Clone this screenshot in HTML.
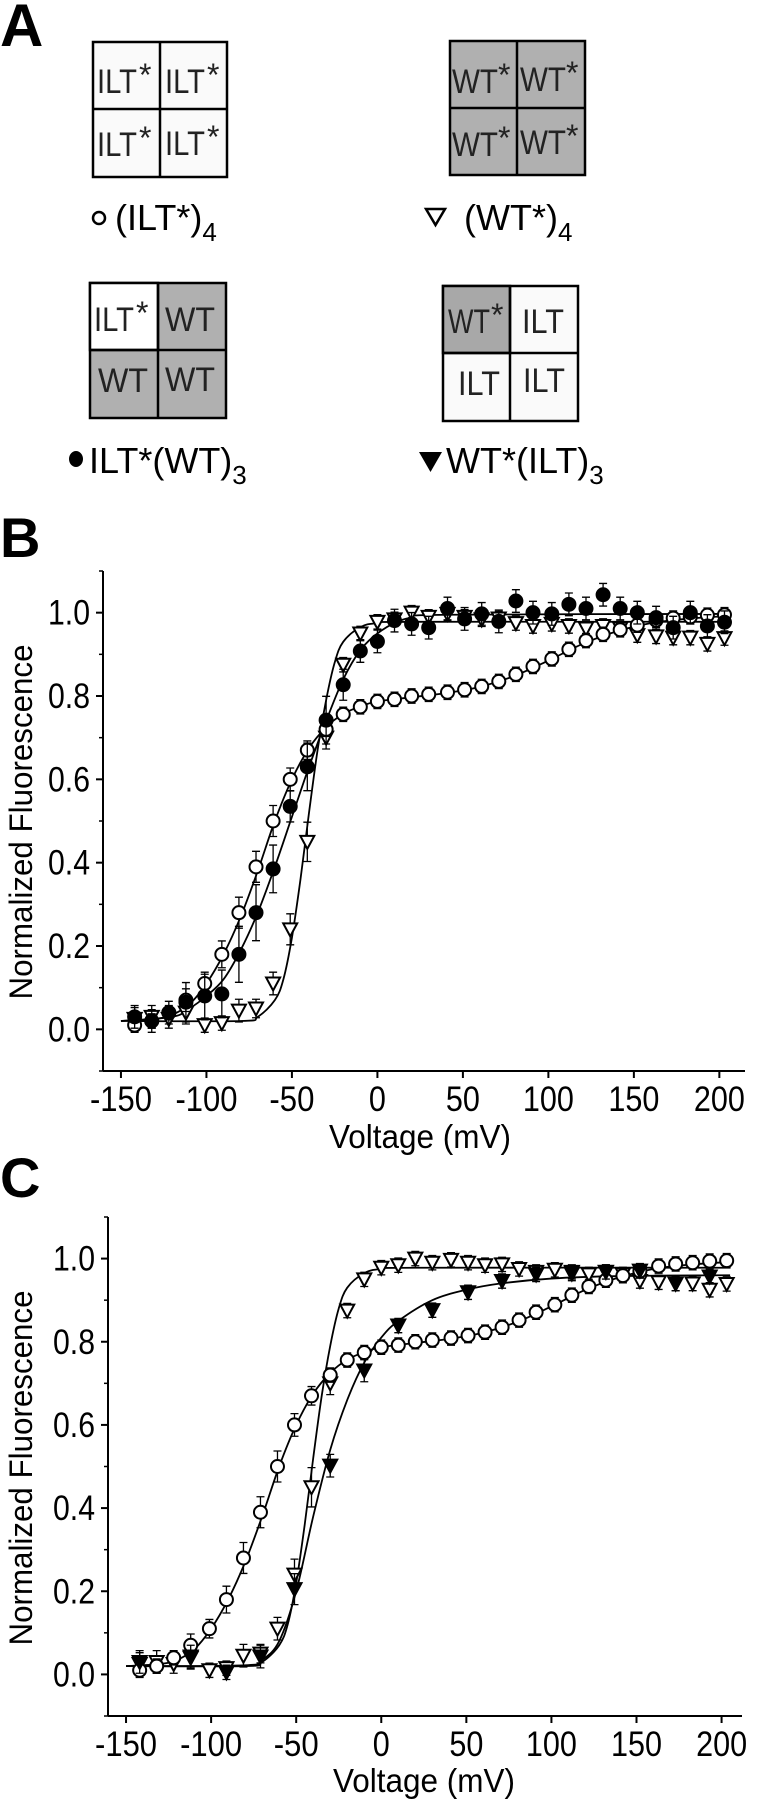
<!DOCTYPE html>
<html><head><meta charset="utf-8"><style>
html,body{margin:0;padding:0;background:#fff;}
svg{display:block;font-family:"Liberation Sans",Arial,sans-serif;}
</style></head><body>
<svg id="fig" width="759" height="1800" viewBox="0 0 759 1800" xmlns="http://www.w3.org/2000/svg">
<g>
<text x="0" y="46" font-size="60" font-weight="bold">A</text>
<g stroke="#000" stroke-width="2.5">
<rect x="93" y="42" width="134" height="135" fill="#fafafa"/>
<line x1="160" y1="42" x2="160" y2="177"/><line x1="93" y1="109" x2="227" y2="109"/>
</g>
<g font-size="34" fill="#222" lengthAdjust="spacingAndGlyphs">
<text x="97" y="93" textLength="40" lengthAdjust="spacingAndGlyphs">ILT</text><text x="139" y="86" font-size="32">*</text>
<text x="165" y="93" textLength="40" lengthAdjust="spacingAndGlyphs">ILT</text><text x="207" y="86" font-size="32">*</text>
<text x="97" y="156" textLength="40" lengthAdjust="spacingAndGlyphs">ILT</text><text x="139" y="149" font-size="32">*</text>
<text x="165" y="155" textLength="40" lengthAdjust="spacingAndGlyphs">ILT</text><text x="207" y="148" font-size="32">*</text>
</g>
<g stroke="#000" stroke-width="2.5">
<rect x="450" y="41" width="135" height="134" fill="#b0b0b0"/>
<line x1="517" y1="41" x2="517" y2="175"/><line x1="450" y1="108" x2="585" y2="108"/>
</g>
<g font-size="34" fill="#222">
<text x="452" y="93" textLength="46" lengthAdjust="spacingAndGlyphs">WT</text><text x="498" y="86" font-size="32">*</text>
<text x="520" y="91" textLength="46" lengthAdjust="spacingAndGlyphs">WT</text><text x="566" y="84" font-size="32">*</text>
<text x="452" y="156" textLength="46" lengthAdjust="spacingAndGlyphs">WT</text><text x="498" y="149" font-size="32">*</text>
<text x="520" y="154" textLength="46" lengthAdjust="spacingAndGlyphs">WT</text><text x="566" y="147" font-size="32">*</text>
</g>
<g stroke="#000" stroke-width="2.5">
<rect x="90" y="283" width="136" height="135" fill="#b0b0b0"/>
<rect x="90" y="283" width="68" height="67" fill="#fff"/>
<line x1="158" y1="283" x2="158" y2="418"/><line x1="90" y1="350" x2="226" y2="350"/>
</g>
<g font-size="34" fill="#222">
<text x="94" y="331" textLength="40" lengthAdjust="spacingAndGlyphs">ILT</text><text x="136" y="324" font-size="32">*</text>
<text x="165" y="331" textLength="50" lengthAdjust="spacingAndGlyphs">WT</text>
<text x="98" y="392" textLength="50" lengthAdjust="spacingAndGlyphs">WT</text>
<text x="165" y="391" textLength="50" lengthAdjust="spacingAndGlyphs">WT</text>
</g>
<g stroke="#000" stroke-width="2.5">
<rect x="443" y="286" width="135" height="135" fill="#fafafa"/>
<rect x="443" y="286" width="67" height="67" fill="#a8a8a8"/>
<line x1="510" y1="286" x2="510" y2="421"/><line x1="443" y1="353" x2="578" y2="353"/>
</g>
<g font-size="34" fill="#222">
<text x="448" y="333" textLength="42" lengthAdjust="spacingAndGlyphs">WT</text><text x="491" y="326" font-size="32">*</text>
<text x="522" y="333" textLength="42" lengthAdjust="spacingAndGlyphs">ILT</text>
<text x="458" y="395" textLength="42" lengthAdjust="spacingAndGlyphs">ILT</text>
<text x="523" y="392" textLength="42" lengthAdjust="spacingAndGlyphs">ILT</text>
</g>
<g>
<circle cx="99" cy="218" r="6" fill="none" stroke="#000" stroke-width="2.5"/>
<text x="115" y="230" font-size="36">(ILT*)<tspan font-size="26" dy="11">4</tspan></text>
</g>
<g>
<polygon points="426,209 445,209 435.5,225" fill="none" stroke="#000" stroke-width="2.5"/>
<text x="464" y="230" font-size="36">(WT*)<tspan font-size="26" dy="11">4</tspan></text>
</g>
<g>
<ellipse cx="76" cy="459" rx="7" ry="8" fill="#000"/>
<text x="89" y="473" font-size="36">ILT*(WT)<tspan font-size="26" dy="11">3</tspan></text>
</g>
<g>
<polygon points="419,452 442,452 430.5,472" fill="#000"/>
<text x="446" y="473" font-size="36">WT*(ILT)<tspan font-size="26" dy="11">3</tspan></text>
</g>
</g>
<text x="0" y="557" font-size="56" font-weight="bold">B</text>
<text x="0" y="1197" font-size="56" font-weight="bold">C</text>
<g id="chartB"></g>
<g id="chartC"></g>
</svg>
<script>
// ---- data ----
const voltages = [-142,-132,-122,-112,-101,-91,-81,-71,-61,-51,-41,-30,-20,-10,0,10,20,30,41,51,61,71,81,91,102,112,122,132,142,152,163,173,183,193,203];
const iltStar4 = [0.01,0.02,0.04,0.07,0.11,0.18,0.28,0.39,0.50,0.60,0.67,0.72,0.756,0.774,0.787,0.792,0.80,0.804,0.809,0.815,0.823,0.835,0.852,0.871,0.889,0.912,0.933,0.948,0.959,0.970,0.982,0.987,0.990,0.994,0.995];
const iltStar4Err = [0.01,0.01,0.01,0.02,0.015,0.025,0.03,0.03,0.03,0.02,0.015,0.01,0.01,0.01,0.01,0.01,0.01,0.01,0.01,0.01,0.01,0.01,0.01,0.01,0.01,0.01,0.01,0.01,0.01,0.01,0.01,0.01,0.01,0.01,0.01];
const wtStar4 = [0.025,0.03,0.025,0.04,0.01,0.015,0.045,0.05,0.11,0.24,0.45,0.70,0.875,0.95,0.978,0.984,1.0,0.99,0.997,0.99,0.984,0.986,0.975,0.968,0.973,0.968,0.962,0.968,0.962,0.946,0.943,0.94,0.94,0.925,0.939];
const wtStar4Err = [0.02,0.02,0.015,0.02,0.01,0.01,0.02,0.015,0.02,0.03,0.04,0.02,0.01,0.01,0.01,0.01,0.01,0.01,0.01,0.01,0.01,0.01,0.01,0.01,0.01,0.01,0.01,0.01,0.01,0.01,0.01,0.01,0.01,0.01,0.01];
const iltStarWt3 = [0.03,0.02,0.04,0.065,0.08,0.085,0.18,0.28,0.385,0.535,0.63,0.742,0.827,0.908,0.931,0.981,0.973,0.964,1.01,0.985,0.997,0.979,1.028,1.0,0.997,1.02,1.01,1.043,1.01,1.0,0.988,0.964,1.0,0.968,0.977];
const iltStarWt3Err = [0.02,0.02,0.02,0.04,0.05,0.05,0.06,0.06,0.05,0.03,0.05,0.05,0.03,0.02,0.02,0.02,0.02,0.02,0.02,0.02,0.02,0.02,0.02,0.02,0.02,0.02,0.02,0.02,0.02,0.02,0.02,0.02,0.02,0.02,0.02];
const wtIltVoltages = [-142,-112,-91,-71,-51,-30,-10,10,30,51,71,91,112,132,152,173,193];
const wtStarIlt3 = [0.03,0.043,0.005,0.043,0.205,0.502,0.731,0.839,0.876,0.919,0.946,0.962,0.964,0.968,0.971,0.94,0.957];
const wtStarIlt3Err = [0.02,0.02,0.01,0.02,0.03,0.02,0.02,0.01,0.01,0.01,0.01,0.01,0.01,0.01,0.01,0.01,0.01];
const fitIltStar4V = [-150,-130,-120,-110,-100,-90,-80,-70,-60,-50,-40,-30,-20,-10,0,20,40,60,80,100,120,140,160,180,205];
const fitIltStar4 = [0.02,0.025,0.035,0.06,0.11,0.18,0.27,0.38,0.50,0.60,0.675,0.725,0.757,0.775,0.787,0.797,0.807,0.822,0.848,0.885,0.925,0.955,0.975,0.985,0.992];
const fitWtStar4V = [-150,-80,-70,-60,-55,-50,-45,-40,-35,-30,-25,-20,-10,0,20,205];
const fitWtStar4 = [0.02,0.02,0.03,0.07,0.12,0.22,0.36,0.52,0.67,0.79,0.88,0.93,0.965,0.975,0.978,0.978];
const fitIltWtV = [-150,-120,-110,-100,-90,-80,-70,-60,-50,-40,-30,-20,-10,0,10,20,40,205];
const fitIltWt = [0.02,0.03,0.05,0.08,0.12,0.19,0.28,0.39,0.51,0.63,0.74,0.84,0.91,0.95,0.975,0.988,0.995,0.997];
const fitWtIltV = [-150,-80,-70,-60,-50,-40,-30,-20,-10,0,10,30,50,70,100,140,205];
const fitWtIlt = [0.02,0.022,0.035,0.08,0.20,0.38,0.54,0.66,0.75,0.81,0.85,0.90,0.925,0.94,0.952,0.958,0.96];
const xTicks = [-150,-100,-50,0,50,100,150,200];
const yTicks = [0,0.2,0.4,0.6,0.8,1.0];
const yTickLabels = ["0.0","0.2","0.4","0.6","0.8","1.0"];
const yMinorTicks = [-0.1,0.1,0.3,0.5,0.7,0.9,1.1];

const NS = "http://www.w3.org/2000/svg";
function mk(parent, tag, attrs){const e=document.createElementNS(NS,tag);for(const k in attrs)e.setAttribute(k,attrs[k]);parent.appendChild(e);return e;}
function labelWidth(s){let w=0;for(const c of s){w+= c==='.'?8:(c==='-'?11:17);}return w;}

function smoothPath(pts){
  let d="M"+pts[0][0]+","+pts[0][1];
  for(let i=0;i<pts.length-1;i++){
    const p0=pts[Math.max(0,i-1)],p1=pts[i],p2=pts[i+1],p3=pts[Math.min(pts.length-1,i+2)];
    const c1=[p1[0]+(p2[0]-p0[0])/6,p1[1]+(p2[1]-p0[1])/6];
    const c2=[p2[0]-(p3[0]-p1[0])/6,p2[1]-(p3[1]-p1[1])/6];
    d+=" C"+c1[0]+","+c1[1]+" "+c2[0]+","+c2[1]+" "+p2[0]+","+p2[1];
  }
  return d;
}

function drawChart(g, cfg){
  const sx = v => cfg.x0 + (v - cfg.vmin) * (cfg.x1 - cfg.x0) / (cfg.vmax - cfg.vmin);
  const sy = v => cfg.y0 - (v - (-0.1)) * (cfg.y0 - cfg.y1) / 1.2;
  const ya = mk(g,"line",{x1:cfg.x0,y1:cfg.y1,x2:cfg.x0,y2:cfg.y0,stroke:"#000","stroke-width":2});
  
  
  const xa = mk(g,"line",{x1:cfg.x0,y1:cfg.y0,x2:cfg.x1,y2:cfg.y0,stroke:"#000","stroke-width":2});
  
  
  yTicks.forEach((t,i)=>{
    const y=sy(t);
    const tk=mk(g,"line",{x1:cfg.x0-7,y1:y,x2:cfg.x0,y2:y,stroke:"#000","stroke-width":2});
    
    
    const s=yTickLabels[i];
    const lb=mk(g,"text",{x:cfg.x0-13,y:y+12,"font-size":35,"text-anchor":"end",textLength:labelWidth(s),lengthAdjust:"spacingAndGlyphs"});
    lb.textContent=s;
    
    
  });
  yMinorTicks.forEach(t=>{
    const y=sy(t);
    const tk=mk(g,"line",{x1:cfg.x0-4,y1:y,x2:cfg.x0,y2:y,stroke:"#000","stroke-width":1.5});
    
    
  });
  xTicks.forEach(t=>{
    const x=sx(t);
    const tk=mk(g,"line",{x1:x,y1:cfg.y0,x2:x,y2:cfg.y0+7,stroke:"#000","stroke-width":2});
    
    
    const s=String(t);
    const lb=mk(g,"text",{x:x,y:cfg.labelY,"font-size":35,"text-anchor":"middle",textLength:labelWidth(s),lengthAdjust:"spacingAndGlyphs"});
    lb.textContent=s;
    
    
  });
  const xt=mk(g,"text",{x:cfg.xTitleX,y:cfg.xTitleY,"font-size":33,"text-anchor":"middle",textLength:182,lengthAdjust:"spacingAndGlyphs"});
  xt.textContent="Voltage (mV)";
  
  
  const yt=mk(g,"text",{x:0,y:0,"font-size":32,"text-anchor":"middle",textLength:355,lengthAdjust:"spacingAndGlyphs",transform:"translate("+(cfg.yTitleX)+","+cfg.yTitleY+") rotate(-90)"});
  yt.textContent="Normalized Fluorescence";
  
  
  cfg.fits.forEach(f=>{
    const pts=f.v.map((v,i)=>[sx(v),sy(f.y[i])]);
    const p=mk(g,"path",{d:smoothPath(pts),fill:"none",stroke:"#000","stroke-width":1.8});
    
    
  });
  cfg.series.forEach(s=>{
    const sg=mk(g,"g",{});
    
    
    s.v.forEach((v,i)=>{
      const x=sx(v),y=sy(s.y[i]),e=s.err[i]*(cfg.y0-cfg.y1)/1.2;
      const eb=mk(sg,"path",{d:"M"+x+","+y+" V"+(y-e-3)+" M"+(x-4)+","+(y-e-3)+" H"+(x+4)+" M"+x+","+y+" V"+(y+e+3)+" M"+(x-4)+","+(y+e+3)+" H"+(x+4),stroke:"#000","stroke-width":1.3,fill:"none"});
      
      
      let m;
      if(s.shape==="circle"){
        m=mk(sg,"circle",{cx:x,cy:y,r:6.5,fill:s.fill,stroke:"#000","stroke-width":2});
      }else{
        m=mk(sg,"polygon",{points:(x-7)+","+(y-6)+" "+(x+7)+","+(y-6)+" "+x+","+(y+7),fill:s.fill,stroke:"#000","stroke-width":2});
      }
      
      
    });
  });
}

drawChart(document.getElementById('chartB'),{
  x0:103,x1:745,vmin:-160.5,vmax:215,y0:1071,y1:571,labelY:1111,xTitleX:420,xTitleY:1148,yTitleX:32,yTitleY:822,
  fits:[{name:'fit-ilt-star-4',v:fitIltStar4V,y:fitIltStar4},{name:'fit-wt-star-4',v:fitWtStar4V,y:fitWtStar4},{name:'fit-ilt-star-wt3',v:fitIltWtV,y:fitIltWt}],
  series:[
    {name:'series-wt-star-4',v:voltages,y:wtStar4,err:wtStar4Err,shape:'tri',fill:'#fff'},
    {name:'series-ilt-star-4',v:voltages,y:iltStar4,err:iltStar4Err,shape:'circle',fill:'#fff'},
    {name:'series-ilt-star-wt3',v:voltages,y:iltStarWt3,err:iltStarWt3Err,shape:'circle',fill:'#000'}
  ]
});
drawChart(document.getElementById('chartC'),{
  x0:108,x1:742,vmin:-160.6,vmax:212,y0:1716,y1:1217,labelY:1756,xTitleX:424,xTitleY:1792,yTitleX:32,yTitleY:1468,
  fits:[{name:'fit-ilt-star-4',v:fitIltStar4V,y:fitIltStar4},{name:'fit-wt-star-4',v:fitWtStar4V,y:fitWtStar4},{name:'fit-wt-star-ilt3',v:fitWtIltV,y:fitWtIlt}],
  series:[
    {name:'series-wt-star-4',v:voltages,y:wtStar4,err:wtStar4Err,shape:'tri',fill:'#fff'},
    {name:'series-ilt-star-4',v:voltages,y:iltStar4,err:iltStar4Err,shape:'circle',fill:'#fff'},
    {name:'series-wt-star-ilt3',v:wtIltVoltages,y:wtStarIlt3,err:wtStarIlt3Err,shape:'tri',fill:'#000'}
  ]
});
</script>
</body></html>
